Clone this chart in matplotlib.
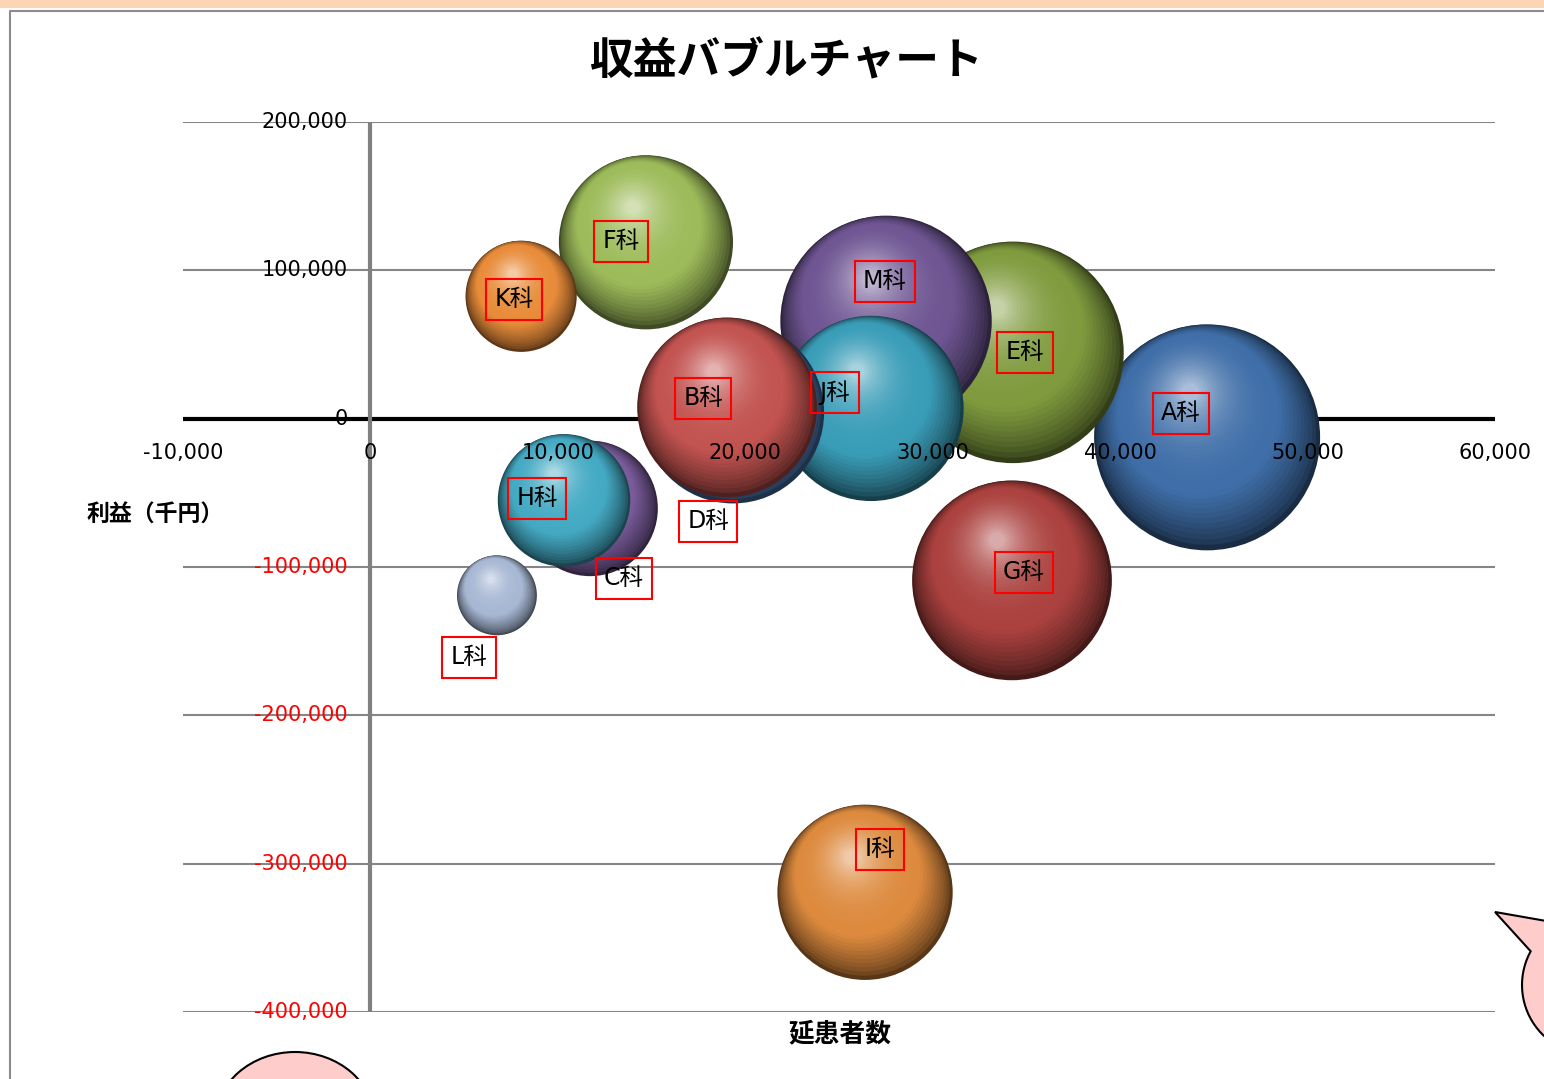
import numpy as np
import matplotlib.pyplot as plt
from matplotlib.patches import Rectangle, Ellipse, Polygon
from matplotlib.colors import to_rgb

# DATA
depts = ["A科", "B科", "C科", "D科", "E科", "F科", "G科",
         "H科", "I科", "J科", "K科", "L科", "M科"]
patients = [44640, 19030, 11720, 19350, 34280, 14700, 34230,
            10330, 26390, 26710, 8040, 6750, 27510]
profit = [-12600, 7600, -60500, 4200, 44700, 118900, -109000,
          -55100, -319300, 6900, 82500, -119100, 65600]
revenue = [128, 81, 46, 83, 123, 76, 100, 44, 77, 86, 31, 16, 112]

x_ticks = [-10000, 0, 10000, 20000, 30000, 40000, 50000, 60000]
y_ticks = [200000, 100000, 0, -100000, -200000, -300000, -400000]

# STYLE
bubble_colors = ["#3f6ea8", "#c25350", "#7a5c9c", "#4a7ab5", "#7f9b3e",
                 "#9dbb5a", "#ab423f", "#44aac4", "#dd8a3e", "#3a9db8",
                 "#e88c3a", "#a8b8d4", "#6f5693"]
# label offset from bubble centre, pixels (right, up)
label_offsets = [(-26, 24), (-24, 9), (34, -70), (-25, -109), (12, 0),
                 (-25, 1), (12, 8), (-27, 2), (15, 43), (-36, 16),
                 (-7, -3), (-28, -62), (-1, 40)]
R_MAX = 113          # radius in px of the largest bubble
N_LAYERS = 36

W, H = 1544, 1079
fig = plt.figure(figsize=(W / 100, H / 100), dpi=100)

# BACKGROUND / DECORATION
bg = fig.add_axes([0, 0, 1, 1])
bg.set_xlim(0, W)
bg.set_ylim(H, 0)
bg.axis("off")
bg.add_patch(Rectangle((0, 0), W, 8, color="#fcd5b4", lw=0))
bg.plot([10, 10, W], [H, 11, 11], color="#8c8c8c", lw=1.5)
bg.add_patch(Ellipse((295, 1122), 160, 140, fc="#ffcccc", ec="black", lw=1.5))

# speech bubble on the right edge
cx, cy, cr = 1592, 985, 70
a1 = np.arctan2(952 - cy, 1532 - cx)
a2 = np.arctan2(925 - cy, 1560 - cx)
angs = np.linspace(a1, a2 - 2 * np.pi, 80)
pts = [(1495, 912)] + [(cx + cr * np.cos(a), cy + cr * np.sin(a)) for a in angs]
bg.add_patch(Polygon(pts, closed=True, fc="#ffcccc", ec="black", lw=1.5))

jp = ["Noto Sans CJK JP", "DejaVu Sans"]
lab = ["DejaVu Sans", "Noto Sans CJK JP"]
bg.text(786, 61, "収益バブルチャート", ha="center", va="center",
        fontsize=31.5, fontweight="bold", family=jp)
bg.text(155, 515, "利益（千円）", ha="center", va="center",
        fontsize=16.5, fontweight="bold", family=jp)
bg.text(840, 1034, "延患者数", ha="center", va="center",
        fontsize=18.5, fontweight="bold", family=jp)

# CHART
ax = fig.add_axes([183 / W, 1 - 1012 / H, 1312 / W, 890 / H])
ax.set_xlim(x_ticks[0], x_ticks[-1])
ax.set_ylim(y_ticks[-1], y_ticks[0])
ax.axis("off")

for v in y_ticks:
    ax.axhline(v, color="#868686", lw=1.5, zorder=1)
ax.axhline(0, color="black", lw=3, zorder=2)
ax.axvline(0, color="#808080", lw=3, zorder=2)

# SPHERE BUBBLES (layered circles -> 3D shading)
order = np.argsort(revenue)[::-1]
t = np.linspace(0, 1, N_LAYERS)
g = 2 * t - t ** 2            # highlight centre moves quickly at first
for z, i in enumerate(order):
    R = R_MAX * np.sqrt(revenue[i] / max(revenue))
    base = np.array(to_rgb(bubble_colors[i]))
    dark = base * 0.4
    light = base + 0.55 * (1 - base)
    cols = []
    for tt in t:
        if tt < 0.3:
            f = tt / 0.3
            cols.append(dark + (base - dark) * f ** 0.7)
        else:
            f = (tt - 0.3) / 0.7
            cols.append(base + (light - base) * f ** 2.2)
    disp = ax.transData.transform((patients[i], profit[i]))
    hx, hy = -0.15 * R, 0.40 * R
    centers = np.column_stack([disp[0] + g * hx, disp[1] + g * hy])
    centers = ax.transData.inverted().transform(centers)
    radii = R * (1 - 0.92 * t)
    sizes = (1.44 * radii) ** 2
    ax.scatter(centers[:, 0], centers[:, 1], s=sizes, c=cols,
               linewidths=0, edgecolors="none", zorder=3 + z)

# DATA LABELS
for i, name in enumerate(depts):
    dx, dy = label_offsets[i]
    ax.annotate(name, xy=(patients[i], profit[i]),
                xytext=(dx * 0.72, dy * 0.72), textcoords="offset points",
                ha="center", va="center", fontsize=17, family=lab,
                bbox=dict(boxstyle="square,pad=0.35", fc="none",
                          ec="red", lw=1.5),
                zorder=40, annotation_clip=False)

# TICK LABELS (drawn on top, next to the crossing axes)
for v in y_ticks:
    ax.annotate(f"{v:,}", xy=(0, v), xytext=(-16.5, 0),
                textcoords="offset points", ha="right", va="center",
                fontsize=15, color="red" if v < 0 else "black",
                family="DejaVu Sans", zorder=50, annotation_clip=False)
for v in x_ticks:
    ax.annotate(f"{v:,}", xy=(v, 0), xytext=(0, -24.5),
                textcoords="offset points", ha="center", va="center",
                fontsize=15, color="black",
                family="DejaVu Sans", zorder=50, annotation_clip=False)

fig.savefig("out.png", dpi=100)
